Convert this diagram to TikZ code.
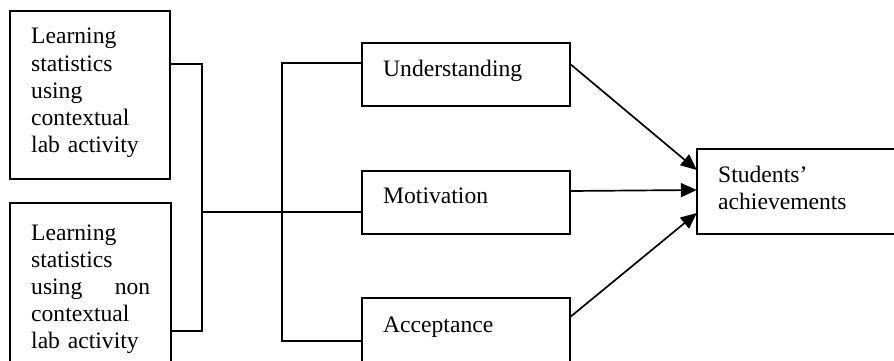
\documentclass[tikz,border=0pt]{standalone}
\usepackage{fontspec}
\setmainfont{Liberation Serif}
\usetikzlibrary{arrows.meta}
\begin{document}
\begin{tikzpicture}[x=1pt,y=-1pt,
  box/.style={draw,line width=1.8pt},
  txt/.style={inner sep=0pt,anchor=base west,text width=119pt,align=left,
    font=\fontsize{23.6}{27.2}\selectfont},
  conn/.style={line width=1.7pt},
  arr/.style={line width=1.7pt,-{Triangle[length=16pt,width=14pt]}}]
\useasboundingbox (0,0) rectangle (894,361);
\clip (0,0) rectangle (894,361);
% boxes
\draw[box] (10,11) rectangle (170,179);
\node[inner sep=0pt,minimum width=160pt,minimum height=168pt] (b1) at (90,95) {};
\draw[box] (10,203) rectangle (171,380);
\node[inner sep=0pt,minimum width=161pt,minimum height=177pt] (b2) at (90.5,291.5) {};
\draw[box] (362,43) rectangle (570,106);
\node[inner sep=0pt,minimum width=208pt,minimum height=63pt] (und) at (466,74.5) {};
\draw[box] (362,171) rectangle (570,234);
\node[inner sep=0pt,minimum width=208pt,minimum height=63pt] (mot) at (466,202.5) {};
\draw[box] (362,298) rectangle (570,380);
\node[inner sep=0pt,minimum width=208pt,minimum height=82pt] (acc) at (466,339) {};
\draw[box] (697,149) rectangle (910,234);
\node[inner sep=0pt,minimum width=213pt,minimum height=85pt] (stu) at (803.5,191.5) {};
% texts
\node[txt] (t1) at (31,44) {Learning\\statistics\\using\\contextual\\lab activity};
\node[txt] (t2) at (31,240) {Learning\\statistics\\using\hfill non\\contextual\\lab activity};
\node[txt,text width=180pt] (t3) at (383,77) {Understanding};
\node[txt,text width=180pt] (t4) at (383,203) {Motivation};
\node[txt,text width=180pt] (t5) at (383,332) {Acceptance};
\node[txt,text width=170pt] (t6) at (718,182) {Students’\\achievements};
% junction coordinates
\coordinate (j1) at (202,64);
\coordinate (j2) at (202,331);
\coordinate (j3) at (202,212);
\coordinate (k1) at (282,63);
\coordinate (k2) at (282,341);
% connectors
\draw[conn] (b1.east|-j1) -- (j1) -- (j2) -- (b2.east|-j2);
\draw[conn] (j3) -- (mot.west|-j3);
\draw[conn] (und.west|-k1) -- (k1) -- (k2) -- (acc.west|-k2);
% arrows
\draw[arr] (und.east|-0,64) -- (stu.west|-0,170);
\draw[arr] (mot.east|-0,191) -- (stu.west|-0,190);
\draw[arr] (acc.east|-0,317) -- (stu.west|-0,213);
\end{tikzpicture}
\end{document}
